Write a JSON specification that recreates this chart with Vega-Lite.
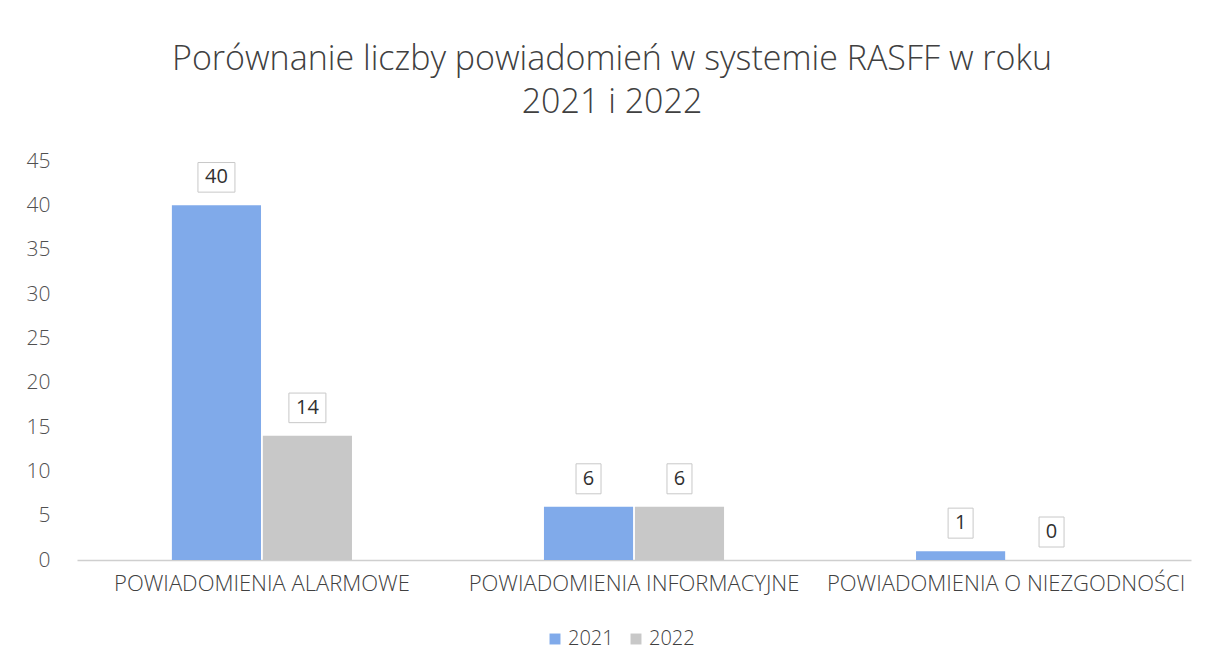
{
  "$schema": "https://vega.github.io/schema/vega-lite/v6.json",
  "autosize": "none",
  "width": 1114,
  "height": 399,
  "padding": {"left": 77, "top": 161, "right": 19, "bottom": 110},
  "background": "white",
  "config": {
    "font": "Open Sans",
    "view": {"stroke": null}
  },
  "title": {
    "text": ["Porównanie liczby powiadomień w systemie RASFF w roku", "2021 i 2022"],
    "fontSize": 34,
    "fontWeight": 300,
    "color": "#404040",
    "lineHeight": 43,
    "offset": 30,
    "anchor": "middle",
    "dx": -22
  },
  "data": {
    "values": [
      {"kategoria": "POWIADOMIENIA ALARMOWE", "rok": "2021", "liczba": 40, "w": "2"},
      {"kategoria": "POWIADOMIENIA ALARMOWE", "rok": "2022", "liczba": 14, "w": "2"},
      {"kategoria": "POWIADOMIENIA INFORMACYJNE", "rok": "2021", "liczba": 6, "w": "1"},
      {"kategoria": "POWIADOMIENIA INFORMACYJNE", "rok": "2022", "liczba": 6, "w": "1"},
      {"kategoria": "POWIADOMIENIA O NIEZGODNOŚCI", "rok": "2021", "liczba": 1, "w": "1"},
      {"kategoria": "POWIADOMIENIA O NIEZGODNOŚCI", "rok": "2022", "liczba": 0, "w": "1"}
    ]
  },
  "encoding": {
    "x": {
      "field": "kategoria",
      "type": "nominal",
      "sort": null,
      "scale": {"paddingInner": 0.516, "paddingOuter": 0.255},
      "axis": {
        "title": null,
        "labelAngle": 0,
        "labelFontSize": 22,
        "labelFontWeight": 300,
        "labelLimit": 0,
        "labelColor": "#404040",
        "labelPadding": 13,
        "ticks": false,
        "domainColor": "#cfcfcf",
        "domainWidth": 1.5
      }
    },
    "xOffset": {"field": "rok", "type": "nominal", "scale": {"paddingInner": 0.02}},
    "y": {
      "field": "liczba",
      "type": "quantitative",
      "scale": {"domain": [0, 45]},
      "axis": {
        "title": null,
        "values": [0, 5, 10, 15, 20, 25, 30, 35, 40, 45],
        "labelFontSize": 21,
        "labelFontWeight": 300,
        "labelColor": "#505050",
        "labelPadding": 27,
        "ticks": false,
        "domain": false,
        "grid": false
      }
    }
  },
  "layer": [
    {
      "mark": {"type": "bar"},
      "encoding": {
        "color": {
          "field": "rok",
          "type": "nominal",
          "scale": {"domain": ["2021", "2022"], "range": ["#80aaea", "#c8c8c8"]},
          "legend": {
            "title": null,
            "orient": "none",
            "direction": "horizontal",
            "legendX": 468,
            "legendY": 468,
            "symbolType": "square",
            "symbolSize": 120,
            "labelFontSize": 20,
            "labelFontWeight": 300,
            "labelColor": "#404040",
            "labelOffset": 3,
            "columnPadding": 12
          }
        }
      }
    },
    {
      "mark": {"type": "point", "filled": true, "fill": "white", "stroke": "#c8c8c8", "strokeWidth": 1, "opacity": 1, "yOffset": -28},
      "encoding": {
        "shape": {
          "field": "w",
          "type": "nominal",
          "scale": {"domain": ["1", "2"], "range": ["M-1,-1.2H1V1.2H-1Z", "M-1,-0.8H1V0.8H-1Z"]},
          "legend": null
        },
        "size": {
          "field": "w",
          "type": "nominal",
          "scale": {"domain": ["1", "2"], "range": [625, 1369]},
          "legend": null
        }
      }
    },
    {
      "mark": {"type": "text", "fontSize": 20, "color": "#303030", "yOffset": -28, "baseline": "middle"},
      "encoding": {
        "text": {"field": "liczba", "type": "quantitative"}
      }
    }
  ]
}
